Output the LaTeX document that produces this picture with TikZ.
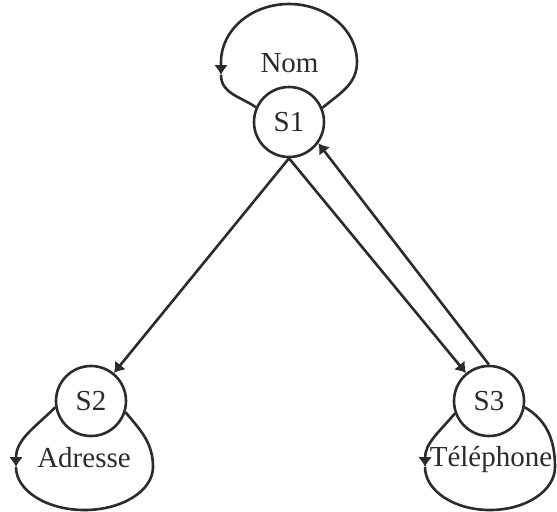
\documentclass[tikz,border=0pt]{standalone}
\usepackage{fontspec}
\setmainfont{Liberation Serif}
\usetikzlibrary{arrows.meta}
\definecolor{ink}{HTML}{2B2B2B}
\begin{document}
\begin{tikzpicture}[x=0.5pt,y=0.5pt,line width=1.3pt,draw=ink,text=ink,
  >={Latex[length=5pt,width=7pt]},
  font=\fontsize{14.5}{17}\selectfont]
\tikzstyle{state}=[draw,circle,minimum size=35pt,inner sep=0pt]
\tikzstyle{word}=[anchor=base,inner sep=0pt]
\useasboundingbox (0,0) rectangle (557,511);
  \foreach \place/\name in {{(289,389)/S1},
                            {(91,110)/S2},
                            {(489,110)/S3}}
    \node[state] (\name) at \place {\name};
  \node[word] (nom) at (289.5,439) {Nom};
  \node[word] (adresse) at (84,44) {Adresse};
  \node[word] (telephone) at (491,45) {Téléphone};
  \foreach \source/\dest in {S1.south/S2,S1.south/S3,S3.north/S1.-36}
      \draw[->] (\source) -- (\dest);
% loops
  \coordinate (nomR) at (357,449);
  \coordinate (nomL) at (221,436);
  \coordinate (adrL) at (16,44);
  \coordinate (telL) at (425,44);
  \draw[->] (S1.23) to[out=40,in=-90] (nomR)
    arc[start angle=0,end angle=180,x radius=68,y radius=58] -- (nomL);
  \draw (nomL) to[out=-90,in=145] (S1.156);
  \draw[->] (S2.190) to[out=225,in=90] (adrL);
  \draw (adrL) arc[start angle=180,end angle=360,x radius=68.5,y radius=43]
    to[out=90,in=-50] (S2.-18);
  \draw[->] (S3.200) to[out=230,in=90] (telL);
  \draw (telL) arc[start angle=180,end angle=360,x radius=65,y radius=43]
    to[out=90,in=-30] (S3.-10);
\end{tikzpicture}
\end{document}
